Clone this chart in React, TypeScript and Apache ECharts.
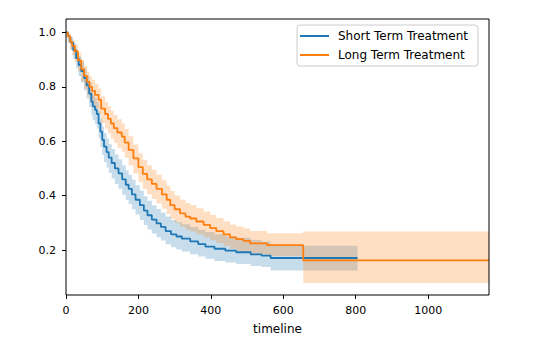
import React, { useEffect, useRef } from "react";
import * as echarts from "echarts";

// Short Term Treatment (Kaplan-Meier estimate with confidence interval)
const shortT = [0, 5, 12, 20, 28, 35, 42, 50, 57, 64, 70, 74, 80, 85, 90, 95, 100, 105, 112, 118, 126, 135, 145, 155, 165, 173, 182, 192, 204, 215, 225, 237, 250, 262, 275, 290, 305, 320, 343, 365, 385, 410, 440, 470, 510, 540, 565, 805];
const shortS = [1.0, 0.985, 0.963, 0.935, 0.905, 0.88, 0.858, 0.832, 0.805, 0.775, 0.745, 0.728, 0.715, 0.7, 0.665, 0.635, 0.605, 0.58, 0.56, 0.54, 0.52, 0.5, 0.482, 0.46, 0.44, 0.425, 0.405, 0.385, 0.365, 0.345, 0.328, 0.312, 0.298, 0.285, 0.27, 0.258, 0.25, 0.242, 0.232, 0.222, 0.213, 0.205, 0.198, 0.192, 0.184, 0.18, 0.171, 0.171];
const shortLo = [1.0, 0.965, 0.936, 0.902, 0.868, 0.84, 0.816, 0.787, 0.758, 0.726, 0.695, 0.677, 0.663, 0.647, 0.611, 0.58, 0.549, 0.524, 0.503, 0.483, 0.463, 0.443, 0.425, 0.403, 0.384, 0.369, 0.35, 0.331, 0.311, 0.292, 0.276, 0.261, 0.247, 0.235, 0.221, 0.21, 0.202, 0.195, 0.185, 0.176, 0.168, 0.16, 0.154, 0.149, 0.142, 0.138, 0.125, 0.125];
const shortHi = [1.0, 0.996, 0.982, 0.959, 0.933, 0.911, 0.891, 0.867, 0.842, 0.814, 0.786, 0.77, 0.758, 0.744, 0.711, 0.683, 0.654, 0.63, 0.61, 0.59, 0.571, 0.551, 0.534, 0.512, 0.492, 0.477, 0.458, 0.438, 0.418, 0.398, 0.381, 0.365, 0.351, 0.338, 0.323, 0.311, 0.303, 0.295, 0.285, 0.275, 0.266, 0.258, 0.251, 0.245, 0.237, 0.232, 0.216, 0.216];

// Long Term Treatment
const longT = [0, 5, 12, 17, 24, 33, 42, 50, 58, 65, 72, 80, 90, 97, 108, 116, 124, 132, 142, 154, 162, 173, 186, 200, 212, 224, 237, 250, 265, 278, 288, 300, 315, 330, 343, 360, 380, 398, 415, 435, 453, 470, 490, 508, 555, 655, 1168];
const longS = [1.0, 0.985, 0.965, 0.95, 0.93, 0.897, 0.865, 0.84, 0.818, 0.8, 0.785, 0.77, 0.752, 0.72, 0.7, 0.682, 0.665, 0.648, 0.632, 0.617, 0.595, 0.568, 0.537, 0.505, 0.48, 0.46, 0.443, 0.425, 0.405, 0.385, 0.365, 0.35, 0.335, 0.323, 0.316, 0.305, 0.293, 0.281, 0.27, 0.258, 0.247, 0.24, 0.234, 0.225, 0.218, 0.162, 0.162];
const longLo = [1.0, 0.962, 0.935, 0.916, 0.892, 0.855, 0.82, 0.793, 0.77, 0.751, 0.735, 0.719, 0.7, 0.667, 0.646, 0.628, 0.61, 0.593, 0.576, 0.561, 0.539, 0.512, 0.481, 0.449, 0.424, 0.405, 0.388, 0.371, 0.352, 0.333, 0.314, 0.3, 0.286, 0.275, 0.268, 0.258, 0.247, 0.236, 0.226, 0.215, 0.205, 0.198, 0.193, 0.185, 0.178, 0.079, 0.079];
const longHi = [1.0, 0.995, 0.981, 0.97, 0.954, 0.926, 0.898, 0.875, 0.855, 0.839, 0.825, 0.811, 0.794, 0.764, 0.745, 0.728, 0.712, 0.696, 0.681, 0.666, 0.645, 0.618, 0.588, 0.556, 0.532, 0.512, 0.495, 0.477, 0.457, 0.437, 0.417, 0.401, 0.385, 0.373, 0.366, 0.354, 0.342, 0.329, 0.318, 0.305, 0.294, 0.287, 0.28, 0.27, 0.262, 0.268, 0.268];

const xTicks = [0, 200, 400, 600, 800, 1000];
const yTicks = [0.2, 0.4, 0.6, 0.8, 1.0];

const BLUE = "#1f77b4";
const ORANGE = "#ff7f0e";
const FONT = "DejaVu Sans";

function pairs(xs: number[], ys: number[]) {
  return xs.map((x, i) => [x, ys[i]]);
}

// Confidence band drawn as one step-shaped polygon through the chart's own coordinate system
function bandSeries(key: string, xs: number[], lo: number[], hi: number[], color: string) {
  return {
    name: key + "_band",
    type: "custom",
    silent: true,
    z: 1,
    data: xs.map((x, i) => [x, lo[i], hi[i]]),
    encode: { x: 0, y: [1, 2] },
    renderItem: (params: any, api: any) => {
      if (params.dataIndex !== 0) return null;
      const upper: number[][] = [];
      const lower: number[][] = [];
      for (let i = 0; i < xs.length; i++) {
        const xNext = i < xs.length - 1 ? xs[i + 1] : xs[i];
        upper.push(api.coord([xs[i], hi[i]]), api.coord([xNext, hi[i]]));
        lower.push(api.coord([xs[i], lo[i]]), api.coord([xNext, lo[i]]));
      }
      const points = upper.concat(lower.reverse());
      return {
        type: "polygon",
        shape: { points },
        style: { fill: color, opacity: 0.25 },
      };
    },
  };
}

export default function App() {
  const ref = useRef<HTMLDivElement>(null);
  useEffect(() => {
    if (!ref.current) return;
    const chart = echarts.init(ref.current, null, { renderer: "svg" });
    chart.setOption({
      animation: false,
      backgroundColor: "#fff",
      textStyle: { fontFamily: FONT },
      grid: {
        left: 66,
        right: 61,
        top: 19,
        bottom: 57,
        show: true,
        borderColor: "#000",
        borderWidth: 1,
        backgroundColor: "transparent",
        z: 5,
      },
      legend: {
        data: ["Short Term Treatment", "Long Term Treatment"],
        orient: "vertical",
        left: 297,
        top: 25,
        padding: [5, 10, 5, 3],
        itemGap: 7,
        itemWidth: 29,
        itemHeight: 2,
        icon: "rect",
        borderColor: "#cccccc",
        borderWidth: 1,
        borderRadius: 3,
        backgroundColor: "rgba(255,255,255,0.8)",
        textStyle: { fontFamily: FONT, fontSize: 12, color: "#000", padding: [0, 0, 0, 4] },
      },
      xAxis: {
        type: "value",
        min: 0,
        max: 1168,
        interval: 200,
        name: "timeline",
        nameLocation: "middle",
        nameGap: 28,
        nameTextStyle: { fontFamily: FONT, fontSize: 12, color: "#000", fontWeight: "normal" },
        axisLine: { show: false },
        splitLine: { show: false },
        axisTick: { show: true, inside: false, length: 4, lineStyle: { color: "#000" }, customValues: xTicks },
        axisLabel: {
          fontFamily: FONT,
          fontSize: 11,
          color: "#000",
          margin: 10,
          customValues: xTicks,
          formatter: (v: number) => String(v),
        },
      },
      yAxis: {
        type: "value",
        min: 0.035,
        max: 1.049,
        axisLine: { show: false },
        splitLine: { show: false },
        axisTick: { show: true, inside: false, length: 4, lineStyle: { color: "#000" }, customValues: yTicks },
        axisLabel: {
          fontFamily: FONT,
          fontSize: 11,
          color: "#000",
          margin: 10,
          customValues: yTicks,
          formatter: (v: number) => v.toFixed(1),
        },
      },
      series: [
        bandSeries("short", shortT, shortLo, shortHi, BLUE),
        {
          name: "Short Term Treatment",
          type: "line",
          step: "end",
          data: pairs(shortT, shortS),
          symbol: "none",
          color: BLUE,
          lineStyle: { color: BLUE, width: 1.8 },
          z: 2,
        },
        bandSeries("long", longT, longLo, longHi, ORANGE),
        {
          name: "Long Term Treatment",
          type: "line",
          step: "end",
          data: pairs(longT, longS),
          symbol: "none",
          color: ORANGE,
          lineStyle: { color: ORANGE, width: 1.8 },
          z: 2,
        },
      ],
    });
    return () => chart.dispose();
  }, []);
  return (
    <div
      ref={ref}
      style={{ position: "fixed", left: 0, top: 0, width: 550, height: 352 }}
    />
  );
}
